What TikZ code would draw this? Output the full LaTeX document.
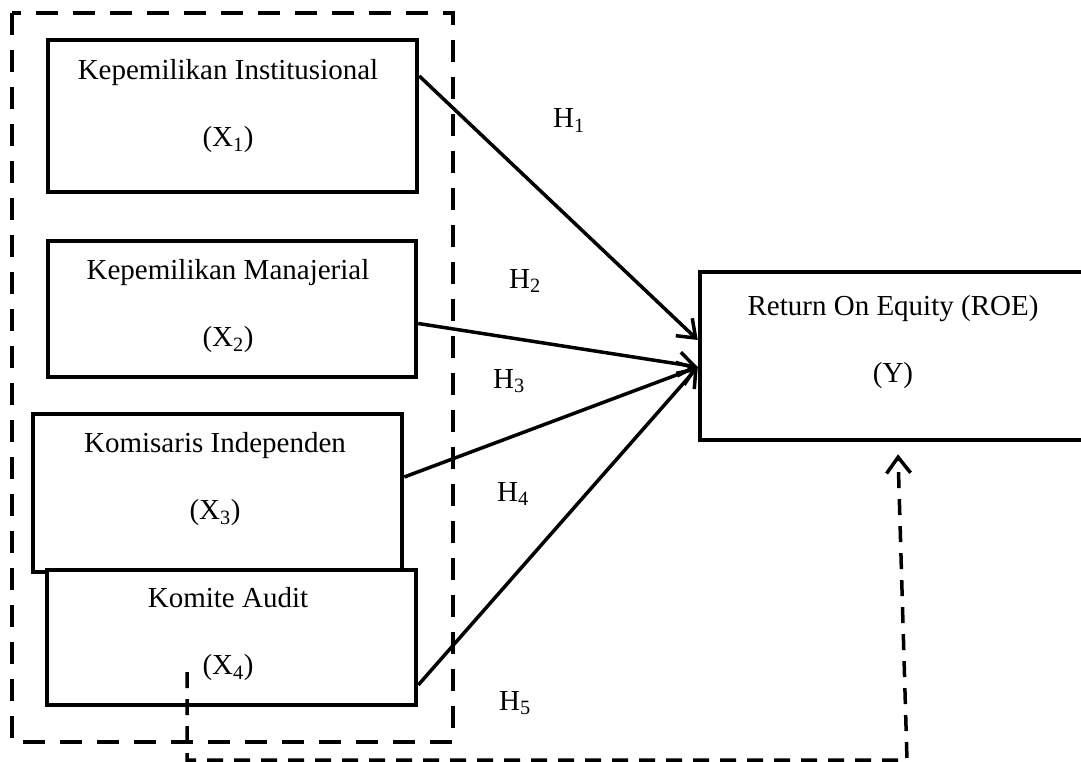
\documentclass[tikz,border=0pt]{standalone}
\usepackage{fontspec}
\setmainfont{Liberation Serif}
\usetikzlibrary{arrows.meta}

\begin{document}
\begin{tikzpicture}[x=1pt,y=-1pt]

\tikzstyle{boxnode} = [draw, line width=4.5pt, fill=white, inner sep=0pt]
\tikzstyle{textnode} = [align=center, font=\fontsize{29}{67}\selectfont, inner sep=0pt]
\tikzstyle{hnode} = [anchor=base, font=\fontsize{29}{35}\selectfont, inner sep=0pt]
\tikzstyle{groupline} = [line width=4.5pt, dash pattern=on 22pt off 15pt]
\tikzstyle{backline} = [line width=3.5pt, dash pattern=on 16pt off 11pt, -{Straight Barb[length=16pt,width=24pt]}]
\tikzstyle{myedgestyle} = [line width=3.5pt, -{Straight Barb[length=16pt,width=24pt]}]

\useasboundingbox (0,0) rectangle (1081,762);

% variables
\node [boxnode, minimum width=369pt, minimum height=152pt] (x1) at (232.5,116) {};
\node [boxnode, minimum width=368pt, minimum height=136pt] (x2) at (232,309) {};
\node [boxnode, minimum width=369pt, minimum height=158pt] (x3) at (217.5,493) {};
\node [boxnode, minimum width=369pt, minimum height=135pt] (x4) at (231.5,637.5) {};
\node [boxnode, minimum width=386pt, minimum height=168pt] (y) at (893,356) {};

\node [textnode] (t1) at (228,106) {Kepemilikan Institusional\\(X\textsubscript{1})};
\node [textnode] (t2) at (228,306) {Kepemilikan Manajerial\\(X\textsubscript{2})};
\node [textnode] (t3) at (215,479) {Komisaris Independen\\(X\textsubscript{3})};
\node [textnode] (t4) at (228,634) {Komite Audit\\(X\textsubscript{4})};
\node [textnode] (ty) at (893,342) {Return On Equity (ROE)\\(Y)};

% group frame
\draw [groupline] (12,13) rectangle (453,742);

% hypotheses
\draw [myedgestyle] ([yshift=40pt]x1.east) -- ([yshift=16pt]y.west);
\draw [myedgestyle] ([yshift=-14.5pt]x2.east) -- ([yshift=-11pt]y.west);
\draw [myedgestyle] ([yshift=16pt]x3.east) -- ([yshift=-11pt]y.west);
\draw [myedgestyle] ([yshift=-47.5pt]x4.east) -- ([yshift=-11pt]y.west);

\node [hnode] (h1) at (569,128) {H\textsubscript{1}};
\node [hnode] (h2) at (525,288) {H\textsubscript{2}};
\node [hnode] (h3) at (509,388) {H\textsubscript{3}};
\node [hnode] (h4) at (513,501) {H\textsubscript{4}};
\node [hnode] (h5) at (515,710) {H\textsubscript{5}};

% H5 path
\coordinate (fb1) at (187,672);
\coordinate (fb2) at (187,760);
\coordinate (fb3) at (907,760);
\draw [backline] (fb1) -- (fb2) -- (fb3) -- ([xshift=5pt,yshift=-12pt]y.south);

\end{tikzpicture}
\end{document}
